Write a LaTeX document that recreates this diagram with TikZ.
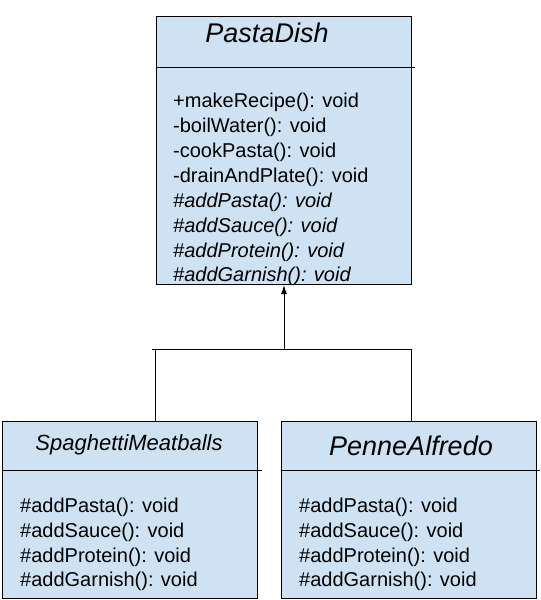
\documentclass[tikz,border=0pt]{standalone}
\usepackage{fontspec}
\setmainfont{Liberation Sans}
\usetikzlibrary{positioning,arrows.meta}

\definecolor{classblue}{HTML}{CFE2F3}

\begin{document}
\begin{tikzpicture}[>={Latex[length=9pt,width=6pt]}, x=1pt, y=-1pt,
  classbox/.style={draw=black, line width=1pt, fill=classblue, inner sep=0pt, anchor=north west},
  bigtitle/.style={font=\fontsize{27}{30}\selectfont\itshape, inner sep=0pt, anchor=base},
  smalltitle/.style={font=\fontsize{22}{26}\selectfont\itshape, inner sep=0pt, anchor=base},
  methods/.style={font=\fontsize{20}{24.9}\selectfont, align=left, inner sep=0pt, anchor=north west}]

\useasboundingbox (0,0) rectangle (541,600);

% Clase abstracta
\node[classbox, minimum width=255pt, minimum height=268pt] (pastadish) at (156,16) {};
\node[bigtitle] (pastatitle) at (267,42) {PastaDish};
\draw[line width=1pt] (pastadish.west |- 0,67) -- (415,67);
\node[methods] (pastamethods) at (173,93) {+makeRecipe(): void\\
  -boilWater(): void\\
  -cookPasta(): void\\
  -drainAndPlate(): void\\
  \textit{\#addPasta(): void}\\
  \textit{\#addSauce(): void}\\
  \textit{\#addProtein(): void}\\
  \textit{\#addGarnish(): void}};

% Subclase izquierda
\node[classbox, minimum width=255pt, minimum height=177pt] (spaghetti) at (2,421) {};
\node[smalltitle] (spaghettititle) at (129,450) {SpaghettiMeatballs};
\draw[line width=1pt] (spaghetti.west |- 0,470) -- (262,470);
\node[methods] (spaghettimethods) at (20,497.5) {\#addPasta(): void\\
  \#addSauce(): void\\
  \#addProtein(): void\\
  \#addGarnish(): void};

% Subclase derecha
\node[classbox, minimum width=255pt, minimum height=177pt] (penne) at (281,421) {};
\node[bigtitle] (pennetitle) at (411,455) {PenneAlfredo};
\draw[line width=1pt] (penne.west |- 0,470) -- (540,470);
\node[methods] (pennemethods) at (299,497.5) {\#addPasta(): void\\
  \#addSauce(): void\\
  \#addProtein(): void\\
  \#addGarnish(): void};

% Herencia
\coordinate (fork) at (284,349);
\coordinate (forkleft) at (155,349);
\coordinate (forkright) at (411,349);
\draw[->, line width=1pt] (fork) -- (fork |- pastadish.south);
\draw[line width=1pt] (152,349) -- (forkright);
\draw[line width=1pt] (forkleft) -- (forkleft |- spaghetti.north);
\draw[line width=1pt] (forkright) -- (forkright |- penne.north);

\end{tikzpicture}
\end{document}
